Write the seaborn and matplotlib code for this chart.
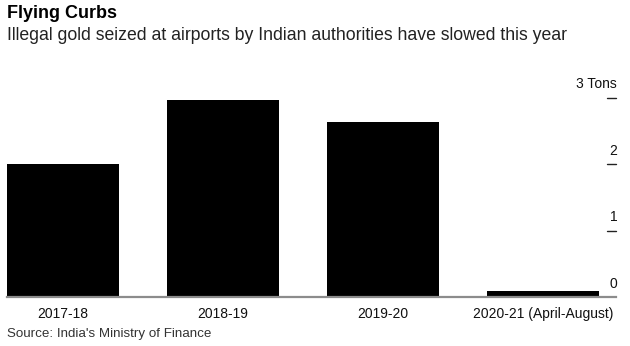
import matplotlib
matplotlib.use("Agg")
import matplotlib.pyplot as plt
import seaborn as sns

categories = ["2017-18", "2018-19", "2019-20", "2020-21 (April-August)"]
values = [2.0, 2.96, 2.63, 0.095]
ytick_vals = [0, 1, 2, 3]
ytick_labels = ["0", "1", "2", "3 Tons"]

sns.set_theme(style="white")
plt.rcParams["font.family"] = ["Liberation Sans", "DejaVu Sans"]

W, H = 630, 346
fig = plt.figure(figsize=(W / 100, H / 100), dpi=100)
x0, x1 = 7, 616
base_y = 297.3
ppt = 66.5
ymax = 3.2
top_y = base_y - ymax * ppt
ax = fig.add_axes([x0 / W, (H - base_y) / H, (x1 - x0) / W, (base_y - top_y) / H])

sns.barplot(x=categories, y=values, color="black", width=0.7, saturation=1, ax=ax, edgecolor="none")
ax.set_xlim(-0.35, 3.456)
ax.set_ylim(0, ymax)
for s in ["top", "left", "right"]:
    ax.spines[s].set_visible(False)
ax.spines["bottom"].set_color("#8c8c8c")
ax.spines["bottom"].set_linewidth(1.6)
ax.set_xlabel("")
ax.set_ylabel("")
ax.set_yticks([])
ax.tick_params(axis="x", length=0, pad=7, labelsize=10, colors="#111111")
ax.grid(False)

tr = ax.get_yaxis_transform()
for v, lab in zip(ytick_vals, ytick_labels):
    if v > 0:
        ax.plot([0.985, 1.0], [v, v], transform=tr, color="#222222", lw=1.0, clip_on=False)
    ax.text(1.002, v + 0.1, lab, transform=tr, ha="right", va="bottom", fontsize=10, color="#111111")

fig.text(7 / W, 1 - 5.5 / H, "Flying Curbs", ha="left", va="top", fontsize=13, fontweight="bold", color="black")
fig.text(7 / W, 1 - 27 / H, "Illegal gold seized at airports by Indian authorities have slowed this year",
         ha="left", va="top", fontsize=12.7, color="#222222")
fig.text(7 / W, 1 - 327.5 / H, "Source: India's Ministry of Finance", ha="left", va="top", fontsize=9.6, color="#333333")

fig.savefig("out.png", dpi=100)
